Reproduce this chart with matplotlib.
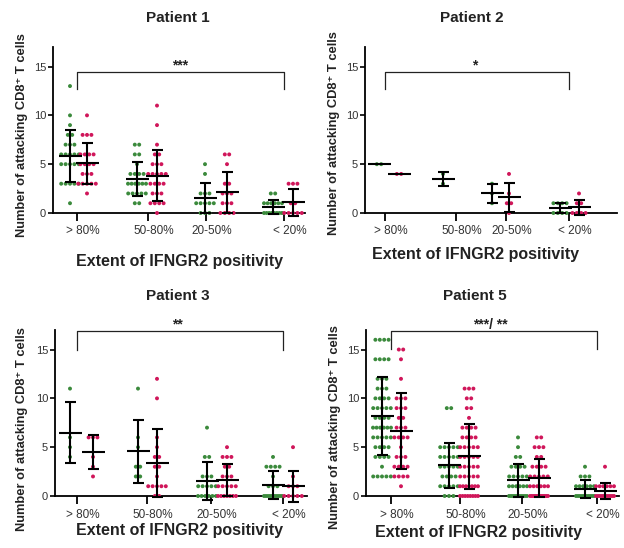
import numpy as np
import matplotlib
matplotlib.use('Agg')
import matplotlib.pyplot as plt
from matplotlib.transforms import ScaledTranslation

plt.rcParams['font.family'] = ['Liberation Sans', 'DejaVu Sans']

# ---------------- data ----------------
categories = ['> 80%', '50-80%', '20-50%', '< 20%']
panel_titles = ['Patient 1', 'Patient 2', 'Patient 3', 'Patient 5']
significance = ['***', '*', '**', '***/ **']
ylabel_text = 'Number of attacking CD8\u207a T cells'
xlabel_text = 'Extent of IFNGR2 positivity'
y_ticks = [0, 5, 10, 15]

p1_green = [
    [13, 10, 9, 8, 8, 7, 7, 7, 6, 6, 6, 6, 6, 5, 5, 5, 5, 5, 3, 3, 3, 3, 3, 1],
    [7, 7, 6, 6, 5, 4, 4, 4, 4, 3, 3, 3, 3, 3, 3, 2, 2, 2, 2, 2, 1, 1],
    [5, 4, 2, 2, 2, 1, 1, 1, 1, 1, 0, 0, 0],
    [2, 2, 1, 1, 1, 1, 1, 1, 0, 0, 0, 0, 0, 0, 0, 0],
]
p1_magenta = [
    [10, 8, 8, 8, 6, 6, 6, 6, 5, 5, 5, 5, 4, 4, 4, 3, 3, 3, 3, 3, 2],
    [11, 9, 7, 6, 6, 5, 5, 5, 4, 4, 4, 4, 4, 3, 3, 3, 3, 2, 2, 2, 1, 1, 1, 1, 0],
    [6, 6, 5, 3, 3, 2, 2, 2, 1, 1, 1, 0, 0, 0, 0],
    [3, 3, 3, 1, 1, 0, 0, 0, 0, 0],
]
p2_green = [
    [5, 5],
    [4, 3],
    [3, 2, 1],
    [1, 1, 1, 1, 0, 0, 0, 0],
]
p2_magenta = [
    [4, 4],
    [],
    [4, 2, 1, 1, 0],
    [2, 1, 1, 0, 0, 0, 0],
]
p3_green = [
    [11, 6, 5, 4],
    [11, 6, 5, 3, 3, 2, 2],
    [7, 4, 4, 2, 2, 2, 1, 1, 1, 1, 1, 0, 0, 0, 0, 0, 0],
    [4, 3, 3, 3, 3, 2, 1, 1, 1, 0, 0, 0, 0, 0, 0, 0, 0, 0, 0],
]
p3_magenta = [
    [6, 6, 6, 4, 3, 2],
    [12, 10, 6, 5, 4, 4, 3, 3, 2, 1, 1, 1, 1, 1, 0, 0],
    [5, 4, 4, 4, 3, 3, 2, 2, 2, 1, 1, 1, 1, 1, 0, 0, 0, 0, 0, 0, 0],
    [5, 2, 1, 1, 1, 0, 0, 0, 0, 0],
]
p5_green = [
    [16, 16, 16, 16, 14, 14, 14, 14, 12, 12, 12, 11, 11, 11, 10, 10, 10, 10,
     9, 9, 9, 9, 9, 8, 8, 8, 8, 7, 7, 7, 7, 7, 7, 6, 6, 6, 6, 6,
     5, 5, 5, 5, 4, 4, 4, 4, 3, 2, 2, 2, 2, 2],
    [9, 9, 5, 5, 5, 5, 5, 4, 4, 4, 4, 4, 3, 3, 3, 3, 3, 2, 2, 2, 2,
     1, 1, 1, 1, 1, 0, 0, 0],
    [6, 5, 4, 4, 3, 3, 3, 3, 2, 2, 2, 2, 2, 1, 1, 1, 1, 1, 1,
     0, 0, 0, 0, 0, 0, 0, 0, 0, 0],
    [3, 2, 2, 2, 1, 1, 1, 1, 1, 1, 0, 0, 0, 0, 0, 0, 0, 0, 0, 0],
]
p5_magenta = [
    [15, 15, 14, 12, 10, 10, 10, 9, 9, 9, 8, 8, 7, 7, 7, 6, 6, 6, 6,
     5, 4, 4, 4, 3, 3, 3, 3, 2, 2, 2, 2, 1],
    [11, 11, 11, 10, 10, 9, 9, 8, 7, 7, 7, 7, 6, 6, 6, 6, 5, 5, 5, 5, 5,
     4, 4, 4, 4, 4, 3, 3, 3, 3, 3, 2, 2, 2, 2, 2, 1, 1, 1, 1, 1, 1, 1,
     0, 0, 0, 0, 0, 0, 0, 0],
    [6, 6, 5, 5, 5, 4, 4, 3, 3, 3, 3, 2, 2, 2, 2, 2, 1, 1, 1, 1, 1, 1,
     0, 0, 0, 0, 0, 0, 0, 0, 0, 0, 0, 0],
    [3, 1, 1, 1, 1, 1, 1, 0, 0, 0, 0, 0, 0, 0, 0, 0, 0],
]

green_series = [p1_green, p2_green, p3_green, p5_green]
magenta_series = [p1_magenta, p2_magenta, p3_magenta, p5_magenta]

# ---------------- layout (pixels) ----------------
W, H = 624, 548
fig = plt.figure(figsize=(W / 100, H / 100), dpi=100)

GREEN = '#3b8a3c'
MAGENTA = '#d0165a'

axes_px = [(53, 47, 305, 213), (365, 47, 617, 213),
           (55, 330, 307, 496), (366, 330, 619, 496)]
green_pos = [[17, 84, 152, 220], [14, 78, 127, 195],
             [15, 83, 152, 218], [16, 83, 152, 219]]
magenta_pos = [[34, 104, 174, 240], [34, 98, 144, 214],
               [38, 102, 172, 238], [35, 103, 173, 239]]
tick_pos = [[24, 95, 153, 231], [20, 91, 141, 204],
            [22, 92, 156, 228], [25, 94, 156, 231]]
bracket = [  # y line, y leg end, x text
    (14.4, 12.7, 127), (14.4, 12.7, 110),
    (16.85, 15.0, 122), (16.85, 15.1, 124)]
title_px = [(178, 18), (472, 18), (178, 296), (475, 296)]
xlabel_px = [(180, 261), (475, 255), (180, 531), (478, 532)]
ylabel_px = [(22, 135), (334, 133), (22, 429), (335, 427)]


def swarm(ax, values, center, color):
    vals = np.asarray(values, dtype=float)
    if vals.size == 0:
        return
    xs = np.zeros_like(vals)
    for v in np.unique(vals):
        idx = np.where(vals == v)[0]
        n = len(idx)
        step = 4.4 if n < 2 else min(4.4, 18.0 / (n - 1))
        xs[idx] = center + (np.arange(n) - (n - 1) / 2) * step
    ax.scatter(xs, vals, s=8, color=color, edgecolors='none', zorder=3,
               clip_on=False)


def meansd(ax, values, center):
    vals = np.asarray(values, dtype=float)
    if vals.size == 0:
        return
    m = vals.mean()
    sd = vals.std(ddof=1) if vals.size > 1 else 0.0
    kw = dict(color='black', lw=1.5, zorder=4, clip_on=False,
              solid_capstyle='butt')
    ax.plot([center - 11.5, center + 11.5], [m, m], **kw)
    if sd > 0:
        ax.plot([center, center], [m - sd, m + sd], **kw)
        ax.plot([center - 5.5, center + 5.5], [m + sd, m + sd], **kw)
        ax.plot([center - 5.5, center + 5.5], [m - sd, m - sd], **kw)


for k in range(4):
    l, t, r, b = axes_px[k]
    ax = fig.add_axes([l / W, 1 - b / H, (r - l) / W, (b - t) / H])
    ax.set_xlim(0, r - l)
    ax.set_ylim(0, 17)
    for s in ['top', 'right']:
        ax.spines[s].set_visible(False)
    for s in ['left', 'bottom']:
        ax.spines[s].set_linewidth(1.3)
    ax.set_yticks(y_ticks)
    ax.set_yticklabels([str(v) for v in y_ticks], fontsize=8, color='#333333')
    ax.set_xticks(tick_pos[k])
    ax.set_xticklabels(categories, fontsize=8.5, color='#333333')
    ax.tick_params(axis='y', length=3.5, width=1.2, pad=1.5)
    ax.tick_params(axis='x', length=6, width=1.3, pad=3)
    off = ScaledTranslation(6 / 100, 0, fig.dpi_scale_trans)
    for lab in ax.get_xticklabels():
        lab.set_transform(lab.get_transform() + off)

    for i in range(4):
        swarm(ax, green_series[k][i], green_pos[k][i], GREEN)
        swarm(ax, magenta_series[k][i], magenta_pos[k][i], MAGENTA)
    for i in range(4):
        meansd(ax, green_series[k][i], green_pos[k][i])
        meansd(ax, magenta_series[k][i], magenta_pos[k][i])

    yl, yleg, xt = bracket[k]
    x0, x1 = tick_pos[k][0], tick_pos[k][3]
    ax.plot([x0, x0, x1, x1], [yleg, yl, yl, yleg], color='#222222', lw=0.9,
            clip_on=False, zorder=2)
    ax.text(xt, yl + 0.3, significance[k], ha='center', va='baseline',
            fontsize=10, fontweight='bold', color='#222222', clip_on=False)

    tx, ty = title_px[k]
    fig.text(tx / W, 1 - ty / H, panel_titles[k], ha='center', va='center',
             fontsize=11, fontweight='bold', color='#222222')
    xx, xy = xlabel_px[k]
    fig.text(xx / W, 1 - xy / H, xlabel_text, ha='center', va='center',
             fontsize=11.5, fontweight='bold', color='#222222')
    yx, yy = ylabel_px[k]
    fig.text(yx / W, 1 - yy / H, ylabel_text, ha='center', va='center',
             rotation=90, fontsize=9.3, fontweight='bold', color='#222222')

fig.savefig('out.png', dpi=100)
